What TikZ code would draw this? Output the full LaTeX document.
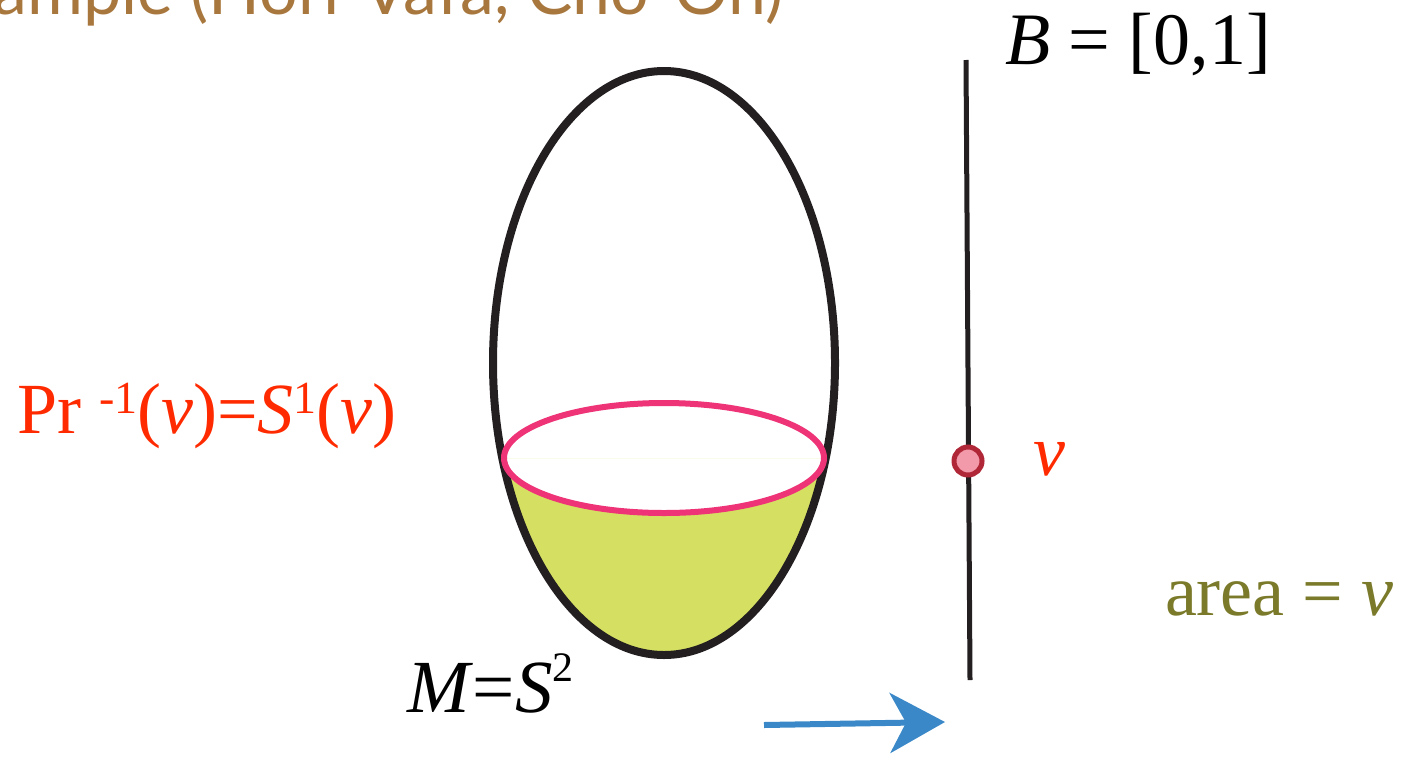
\documentclass[tikz,border=0pt]{standalone}
\usepackage{fontspec}
\setmainfont{Liberation Serif}
\newfontfamily\serifx{Liberation Serif}
\newfontfamily\titlefont{Lato}
\usetikzlibrary{arrows.meta}
\definecolor{titlebrown}{HTML}{A8773E}
\definecolor{labelred}{HTML}{FF2A00}
\definecolor{ringpink}{HTML}{EE3377}
\definecolor{capyellow}{HTML}{D5E063}
\definecolor{dotfill}{HTML}{F29AAA}
\definecolor{dotedge}{HTML}{B02838}
\definecolor{areaolive}{HTML}{7A7A2A}
\definecolor{arrowblue}{HTML}{3A88C8}
\definecolor{outline}{HTML}{231F20}
\newcommand{\mysup}[3]{\raisebox{#1pt}{\fontsize{#2}{#2}\selectfont #3}}
\tikzset{
  lbl/.style={inner sep=0pt, outer sep=0pt},
  sz/.style={font=\serifx\fontsize{#1}{#1}\selectfont}
}
\begin{document}
\begin{tikzpicture}[x=1pt,y=-1pt]
\useasboundingbox (0,0) rectangle (1404,758);
% title (cut by top edge)
\node[lbl, anchor=base east, text=titlebrown, font=\titlefont\fontsize{68}{68}\selectfont] (title) at (783,14) {Example (Hori-Vafa, Cho-Oh)};
% yellow cap
\begin{scope}
  \clip (664,363) ellipse [x radius=171pt, y radius=292pt];
  \clip (400,458) rectangle (900,700);
  \fill[capyellow, even odd rule] (400,458) rectangle (900,700) (664,458) ellipse [x radius=160pt, y radius=55pt];
\end{scope}
% sphere
\draw[outline, line width=8pt] (664,363) ellipse [x radius=171pt, y radius=292pt];
% ring
\draw[ringpink, line width=6pt] (664,458) ellipse [x radius=160pt, y radius=55pt];
% base line
\coordinate (btop) at (966,60);
\coordinate (bbot) at (970,680);
\draw[outline, line width=5pt] (btop) -- (bbot);
\node[circle, draw=dotedge, fill=dotfill, line width=5pt, minimum size=28pt, inner sep=0pt] (dot) at (968,461) {};
% labels
\node[lbl, anchor=base west, text=labelred, sz=72] (vlab) at (1033,475) {\textit{v}};
\node[lbl, anchor=base west, sz=74] (blab) at (1005,64) {\textit{B} = [0,1]};
\node[lbl, anchor=base west, text=labelred, sz=72] (prlab) at (17,433) {Pr \mysup{20}{46}{-1}(\textit{v})=\textit{S}\mysup{20}{46}{1}(\textit{v})};
\node[lbl, anchor=base west, sz=75] (mlab) at (407,712) {\textit{M}=\textit{S}\mysup{31}{42}{2}};
\node[lbl, anchor=base west, text=areaolive, sz=72] (alab) at (1165,615) {area = \textit{v}};
% arrow
\coordinate (as) at (764,725);
\coordinate (ae) at (945,722);
\draw[arrowblue, line width=6pt, -{Stealth[length=55pt, width=60pt, inset=16pt]}] (as) -- (ae);
\end{tikzpicture}
\end{document}
